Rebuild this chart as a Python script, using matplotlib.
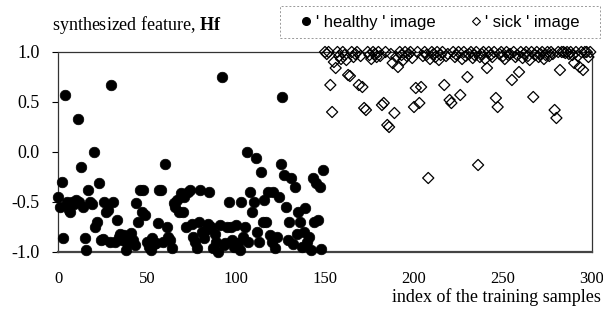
import matplotlib
matplotlib.use("Agg")
import matplotlib.pyplot as plt
from matplotlib.lines import Line2D
from matplotlib.patches import Rectangle

plt.rcParams['axes.unicode_minus'] = False
plt.rcParams['mathtext.fontset'] = 'custom'
plt.rcParams['mathtext.rm'] = 'Liberation Serif'
plt.rcParams['mathtext.bf'] = 'Liberation Serif:bold'

healthy_values = [
    -0.45, -0.55, -0.30, -0.86, 0.57, -0.50, -0.58, -0.60, -0.50, -0.52,
    -0.48, 0.33, -0.50, -0.15, -0.55, -0.86, -0.98, -0.38, -0.50, -0.52,
    0.00, -0.75, -0.70, -0.31, -0.88, -0.87, -0.50, -0.60, -0.58, -0.90,
    0.67, -0.50, -0.90, -0.68, -0.85, -0.82, -0.88, -0.83, -0.98, -0.91,
    -0.85, -0.81, -0.88, -0.93, -0.51, -0.70, -0.38, -0.60, -0.38, -0.63,
    -0.90, -0.95, -0.98, -0.86, -0.92, -0.91, -0.71, -0.38, -0.38, -0.90,
    -0.12, -0.75, -0.85, -0.88, -0.96, -0.51, -0.55, -0.48, -0.60, -0.41,
    -0.60, -0.45, -0.75, -0.40, -0.38, -0.72, -0.85, -0.90, -0.96, -0.70,
    -0.38, -0.80, -0.86, -0.78, -0.72, -0.40, -0.75, -0.96, -0.82, -0.90,
    -1.00, -0.73, 0.75, -0.93, -0.91, -0.75, -0.50, -0.75, -0.88, -0.95,
    -0.73, -0.91, -0.98, -0.50, -0.85, -0.75, 0.00, -0.90, -0.40, -0.60,
    -0.50, -0.06, -0.80, -0.90, -0.20, -0.70, -0.48, -0.70, -0.40, -0.83,
    -0.90, -0.40, -0.96, -0.85, -0.45, -0.12, 0.55, -0.23, -0.55, -0.88,
    -0.70, -0.26, -0.92, -0.35, -0.82, -0.60, -0.70, -0.95, -0.80, -0.56,
    -0.90, -0.85, -0.98, -0.26, -0.70, -0.31, -0.68, -0.35, -0.97, -0.18,
]

sick_values = [
    1.00, 0.98, 1.00, 0.67, 0.40, 0.90, 0.84, 1.00, 0.96, 0.93,
    1.00, 0.97, 0.92, 0.77, 0.76, 1.00, 0.95, 0.98, 1.00, 0.67,
    0.96, 0.65, 0.44, 0.42, 1.00, 0.97, 0.93, 1.00, 0.98, 0.95,
    1.00, 0.96, 0.47, 0.49, 1.00, 0.27, 0.25, 0.98, 0.89, 0.39,
    0.95, 0.85, 1.00, 0.97, 0.92, 1.00, 0.96, 0.98, 1.00, 0.94,
    0.45, 0.64, 1.00, 0.49, 0.65, 0.96, 1.00, 0.97, -0.26, 0.93,
    1.00, 0.98, 0.95, 1.00, 0.92, 0.97, 1.00, 0.67, 0.96, 0.98,
    0.52, 0.49, 1.00, 0.95, 0.97, 1.00, 0.57, 0.93, 1.00, 0.96,
    0.75, 0.98, 1.00, 0.94, 0.97, 1.00, -0.13, 0.95, 0.98, 1.00,
    0.93, 0.84, 1.00, 0.97, 0.95, 1.00, 0.54, 0.45, 0.98, 1.00,
    0.96, 0.93, 1.00, 0.97, 0.98, 0.72, 1.00, 0.95, 0.97, 0.80,
    1.00, 0.94, 0.98, 1.00, 0.96, 0.92, 1.00, 0.55, 0.97, 1.00,
    0.95, 0.98, 1.00, 0.93, 0.97, 1.00, 0.96, 1.00, 0.98, 0.42,
    0.34, 1.00, 0.82, 1.00, 1.00, 0.99, 1.00, 0.98, 1.00, 0.97,
    0.89, 1.00, 0.96, 0.85, 1.00, 0.82, 1.00, 1.00, 0.95, 1.00,
]

healthy_index = list(range(0, 150))
sick_index = list(range(150, 300))

x_ticks = [0, 50, 100, 150, 200, 250, 300]
y_ticks = [-1.0, -0.5, 0.0, 0.5, 1.0]
y_tick_labels = ["-1.0", "-0.5", "0.0", "0.5", "1.0"]

title_text = "synthesized feature, $\\mathbf{Hf}$"
x_label = "index of the training samples"
legend_labels = ["' healthy ' image", "' sick ' image"]

serif = "Liberation Serif"
sans = "Liberation Sans"

fig = plt.figure(figsize=(6.03, 3.19), dpi=100)
ax = fig.add_axes([58 / 603, 1 - 252 / 319, (592 - 58) / 603, 200 / 319])

ax.scatter(healthy_index, healthy_values, s=58, marker='o', color='black',
           edgecolors='black', linewidths=0.5, clip_on=False, zorder=3)
ax.scatter(sick_index, sick_values, s=32, marker='D', facecolors='none',
           edgecolors='black', linewidths=0.9, clip_on=False, zorder=3)

ax.set_xlim(0, 300)
ax.set_ylim(-1.0, 1.0)
ax.set_xticks(x_ticks)
ax.set_xticklabels([str(v) for v in x_ticks], fontfamily=serif, fontsize=12)
ax.set_yticks(y_ticks)
ax.set_yticklabels(y_tick_labels, fontfamily=serif, fontsize=13)
ax.tick_params(axis='x', length=0, pad=14)
ax.tick_params(axis='y', length=4, width=0.8, pad=9, direction='out')

for side in ['left', 'top', 'right']:
    ax.spines[side].set_linestyle((0, (1, 1)))
    ax.spines[side].set_linewidth(0.9)
    ax.spines[side].set_color('#333333')
ax.spines['bottom'].set_linewidth(1.6)
ax.spines['bottom'].set_color('#444444')

fig.text(52 / 603, 1 - 25 / 319, title_text, fontfamily=serif, fontsize=13,
         ha='left', va='center')
fig.text(601 / 603, 1 - 297 / 319, x_label, fontfamily=serif, fontsize=13,
         ha='right', va='center')

# legend box (dotted, light)
fig.patches.append(Rectangle((280 / 603, 1 - 38 / 319), 320 / 603, 32 / 319,
                             transform=fig.transFigure, fill=False,
                             edgecolor='#999999', linewidth=0.7,
                             linestyle=(0, (2, 2))))

handles = [
    Line2D([], [], marker='o', linestyle='none', color='black', markersize=5.5),
    Line2D([], [], marker='D', linestyle='none', markerfacecolor='none',
           markeredgecolor='black', markersize=4.5, markeredgewidth=0.8),
]
leg = fig.legend(handles, legend_labels, loc='center',
                 bbox_to_anchor=(441 / 603, 1 - 22 / 319), ncol=2,
                 prop={'family': sans, 'size': 12}, frameon=False,
                 handlelength=0.5, handletextpad=0.3,
                 columnspacing=2.2, borderpad=0.3)

fig.savefig("out.png", dpi=100)
